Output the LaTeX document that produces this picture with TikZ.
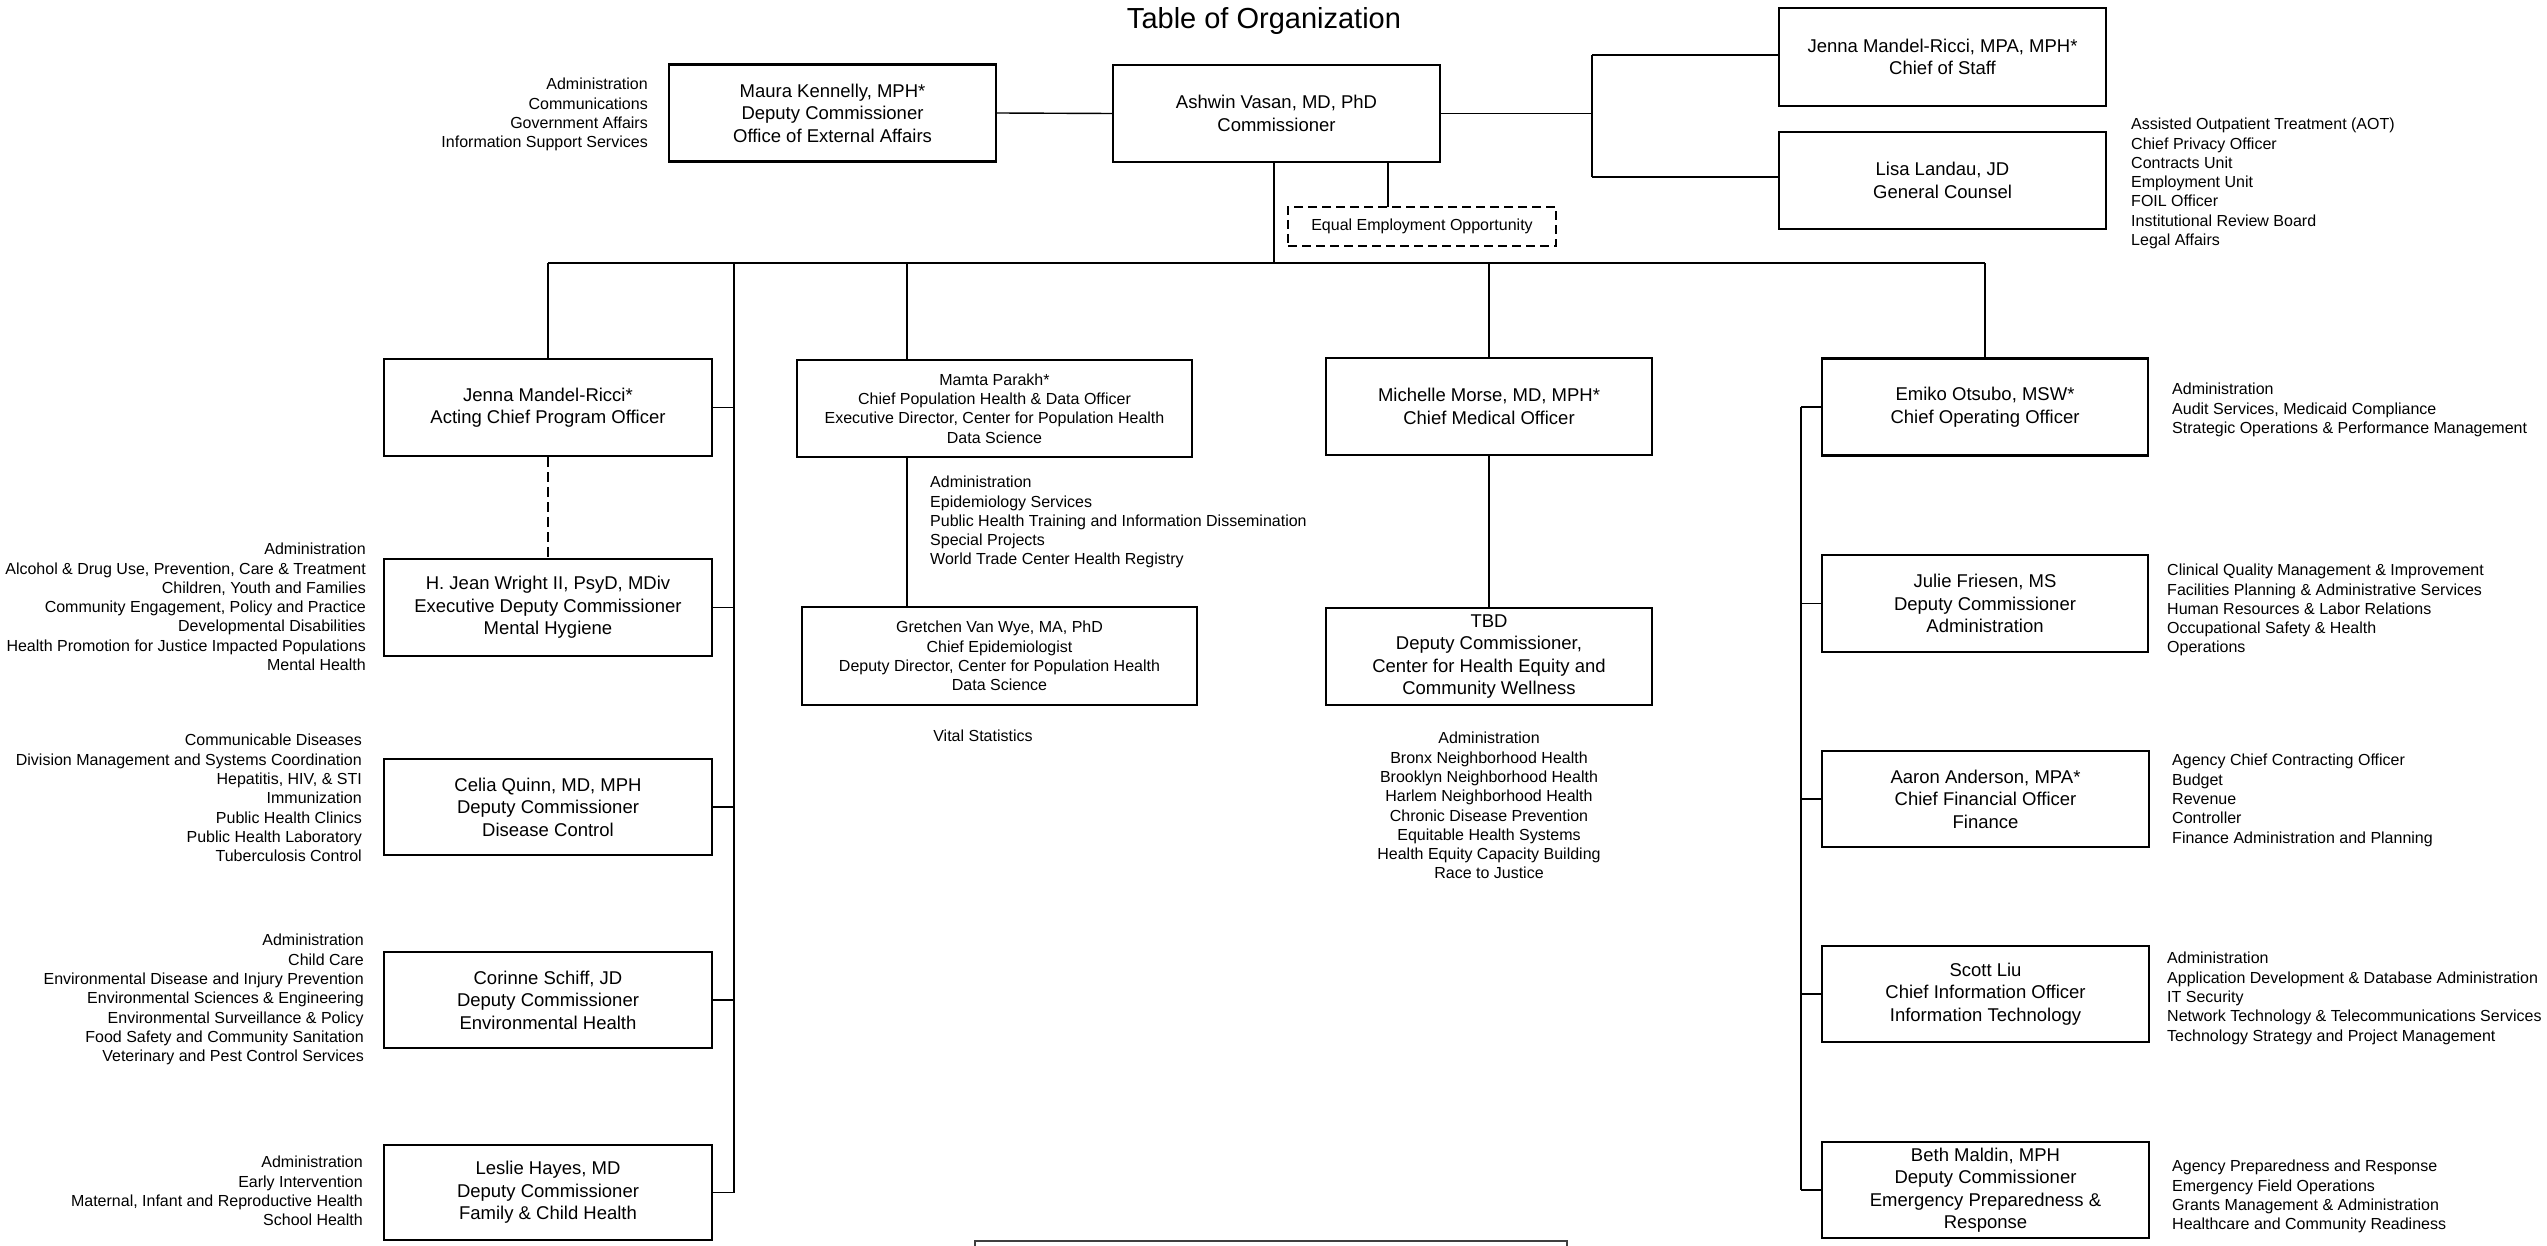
\documentclass[tikz,border=0pt]{standalone}
\usepackage{fontspec}
\setmainfont{Liberation Sans}
\newcommand\orgBoxFont{\fontsize{18.5}{22.5}\selectfont}
\newcommand\orgListFont{\fontsize{16}{19.3}\selectfont}
\newcommand\orgTitleFont{\fontsize{29}{34}\selectfont}
\tikzset{
  orgbox/.style={draw, line width=2.4pt, align=center, inner sep=0pt, font=\orgBoxFont},
  wbox/.style={orgbox, minimum width=327pt, minimum height=97pt},
  smallbox/.style={orgbox, font=\orgListFont, minimum width=395pt, minimum height=97pt},
  lst/.style={inner sep=0pt, font=\orgListFont},
  lstL/.style={lst, align=left, anchor=north west},
  lstR/.style={lst, align=right, anchor=north east},
  lstC/.style={lst, align=center, anchor=north},
  conn/.style={line width=1.4pt},
  dconn/.style={line width=1.4pt, dash pattern=on 10pt off 5pt},
}
\begin{document}
\begin{tikzpicture}[x=1pt,y=-1pt]
\useasboundingbox (0,0) rectangle (2547,1246);
\fill[white] (0,0) rectangle (2547,1246);

% title
\node[font=\orgTitleFont, inner sep=0pt, anchor=base] (title) at (1264,29) {Table of Organization};

% top row
\node[wbox] (maura) at (832.5,113) {Maura Kennelly, MPH*\\Deputy Commissioner\\Office of External Affairs};
\node[wbox] (ashwin) at (1276.5,113.5) {Ashwin Vasan, MD, PhD\\Commissioner};
\node[wbox, minimum height=98pt] (cos) at (1942.5,57) {Jenna Mandel-Ricci, MPA, MPH*\\Chief of Staff};
\node[wbox] (lisa) at (1942.5,180.5) {Lisa Landau, JD\\General Counsel};
\node[draw, line width=2pt, dash pattern=on 9pt off 5pt, minimum width=268pt, minimum height=39pt, inner sep=0pt, font=\orgListFont] (eeo) at (1422,226.5) {Equal Employment Opportunity};

\node[lstR] (mauralist) at (648,78) {Administration\\Communications\\Government Affairs\\Information Support Services};
\node[lstL] (lisalist) at (2131,118) {Assisted Outpatient Treatment (AOT)\\Chief Privacy Officer\\Contracts Unit\\Employment Unit\\FOIL Officer\\Institutional Review Board\\Legal Affairs};

% left column
\node[wbox, minimum width=328pt] (cpo) at (548,407.5) {Jenna Mandel-Ricci*\\Acting Chief Program Officer};
\node[wbox, minimum width=328pt] (hjw) at (548,607.5) {H. Jean Wright II, PsyD, MDiv\\Executive Deputy Commissioner\\Mental Hygiene};
\node[wbox, minimum width=328pt, minimum height=96pt] (celia) at (548,807) {Celia Quinn, MD, MPH\\Deputy Commissioner\\Disease Control};
\node[wbox, minimum width=328pt, minimum height=96pt] (corinne) at (548,1000) {Corinne Schiff, JD\\Deputy Commissioner\\Environmental Health};
\node[wbox, minimum width=328pt, minimum height=95pt] (leslie) at (548,1192.5) {Leslie Hayes, MD\\Deputy Commissioner\\Family \& Child Health};

\node[lstR] (hjwlist) at (366,543) {Administration\\Alcohol \& Drug Use, Prevention, Care \& Treatment\\Children, Youth and Families\\Community Engagement, Policy and Practice\\Developmental Disabilities\\Health Promotion for Justice Impacted Populations\\Mental Health};
\node[lstR] (celialist) at (362,734) {Communicable Diseases\\Division Management and Systems Coordination\\Hepatitis, HIV, \& STI\\Immunization\\Public Health Clinics\\Public Health Laboratory\\Tuberculosis Control};
\node[lstR] (corinnelist) at (364,934) {Administration\\Child Care\\Environmental Disease and Injury Prevention\\Environmental Sciences \& Engineering\\Environmental Surveillance \& Policy\\Food Safety and Community Sanitation\\Veterinary and Pest Control Services};
\node[lstR] (leslielist) at (363,1156) {Administration\\Early Intervention\\Maternal, Infant and Reproductive Health\\School Health};

% middle columns
\node[smallbox] (mamta) at (994.5,408.5) {Mamta Parakh*\\Chief Population Health \& Data Officer\\Executive Director, Center for Population Health\\Data Science};
\node[smallbox, minimum height=98pt] (gretchen) at (999.5,656) {Gretchen Van Wye, MA, PhD\\Chief Epidemiologist\\Deputy Director, Center for Population Health\\Data Science};
\node[lstL] (mamtalist) at (930,476) {Administration\\Epidemiology Services\\Public Health Training and Information Dissemination\\Special Projects\\World Trade Center Health Registry};
\node[lstC] (vital) at (983,730) {Vital Statistics};

\node[wbox, minimum width=326pt] (michelle) at (1489,406.5) {Michelle Morse, MD, MPH*\\Chief Medical Officer};
\node[wbox, minimum width=326pt] (tbd) at (1489,656.5) {TBD\\Deputy Commissioner,\\Center for Health Equity and\\Community Wellness};
\node[lstC] (tbdlist) at (1489,732) {Administration\\Bronx Neighborhood Health\\Brooklyn Neighborhood Health\\Harlem Neighborhood Health\\Chronic Disease Prevention\\Equitable Health Systems\\Health Equity Capacity Building\\Race to Justice};

% right column
\node[wbox, minimum width=326pt] (emiko) at (1985,407) {Emiko Otsubo, MSW*\\Chief Operating Officer};
\node[wbox, minimum width=326pt] (julie) at (1985,603.5) {Julie Friesen, MS\\Deputy Commissioner\\Administration};
\node[wbox, minimum height=96pt] (aaron) at (1985.5,799) {Aaron Anderson, MPA*\\Chief Financial Officer\\Finance};
\node[wbox, minimum height=96pt] (scott) at (1985.5,994) {Scott Liu\\Chief Information Officer\\Information Technology};
\node[wbox, minimum height=96pt] (beth) at (1985.5,1190) {Beth Maldin, MPH\\Deputy Commissioner\\Emergency Preparedness \&\\Response};

\node[lstL] (emikolist) at (2172,383) {Administration\\Audit Services, Medicaid Compliance\\Strategic Operations \& Performance Management};
\node[lstL] (julielist) at (2167,564) {Clinical Quality Management \& Improvement\\Facilities Planning \& Administrative Services\\Human Resources \& Labor Relations\\Occupational Safety \& Health\\Operations};
\node[lstL] (aaronlist) at (2172,754) {Agency Chief Contracting Officer\\Budget\\Revenue\\Controller\\Finance Administration and Planning};
\node[lstL] (scottlist) at (2167,952) {Administration\\Application Development \& Database Administration\\IT Security\\Network Technology \& Telecommunications Services\\Technology Strategy and Project Management};
\node[lstL] (bethlist) at (2172,1160) {Agency Preparedness and Response\\Emergency Field Operations\\Grants Management \& Administration\\Healthcare and Community Readiness};

% bottom (cut off) box
\node[draw, line width=1.5pt, draw=black!75, minimum width=592pt, minimum height=60pt, inner sep=0pt, anchor=north west] (bottombox) at (974,1240) {};

% junction coordinates
\coordinate (busL) at (548,263);
\coordinate (busR) at (1985,263);
\coordinate (adrop) at (1274,263);
\coordinate (eeoj) at (1388,207);
\coordinate (ltop) at (734,263);
\coordinate (lbot) at (734,1192.5);
\coordinate (mj) at (907,263);
\coordinate (rtop) at (1801,407);
\coordinate (rbot) at (1801,1190);
\coordinate (ctop) at (1592,55);
\coordinate (cbot) at (1592,177);

% connectors
\draw[conn] (maura.east) -- (ashwin.west);
\draw[conn] (ashwin.east) -- (ashwin.east -| ctop);
\draw[conn] (ctop) -- (cbot);
\draw[conn] (ctop) -- (ctop -| cos.west);
\draw[conn] (cbot) -- (cbot -| lisa.west);
\draw[conn] (adrop |- ashwin.south) -- (adrop);
\draw[conn] (eeoj |- ashwin.south) -- (eeoj);
\draw[conn] (busL) -- (busR);
\draw[conn] (busL) -- (cpo.north);
\draw[conn] (ltop) -- (lbot);
\draw[conn] (cpo.east) -- (cpo.east -| ltop);
\draw[conn] (hjw.east) -- (hjw.east -| ltop);
\draw[conn] (celia.east) -- (celia.east -| ltop);
\draw[conn] (corinne.east) -- (corinne.east -| ltop);
\draw[conn] (leslie.east) -- (leslie.east -| ltop);
\draw[dconn] (cpo.south) -- (hjw.north);
\draw[conn] (mj) -- (mj |- mamta.north);
\draw[conn] (mj |- mamta.south) -- (mj |- gretchen.north);
\draw[conn] (michelle.north |- busL) -- (michelle.north);
\draw[conn] (michelle.south) -- (tbd.north);
\draw[conn] (busR) -- (emiko.north);
\draw[conn] (rtop) -- (rbot);
\draw[conn] (emiko.west) -- (emiko.west -| rtop);
\draw[conn] (julie.west) -- (julie.west -| rtop);
\draw[conn] (aaron.west) -- (aaron.west -| rtop);
\draw[conn] (scott.west) -- (scott.west -| rtop);
\draw[conn] (beth.west) -- (beth.west -| rtop);
\end{tikzpicture}
\end{document}
